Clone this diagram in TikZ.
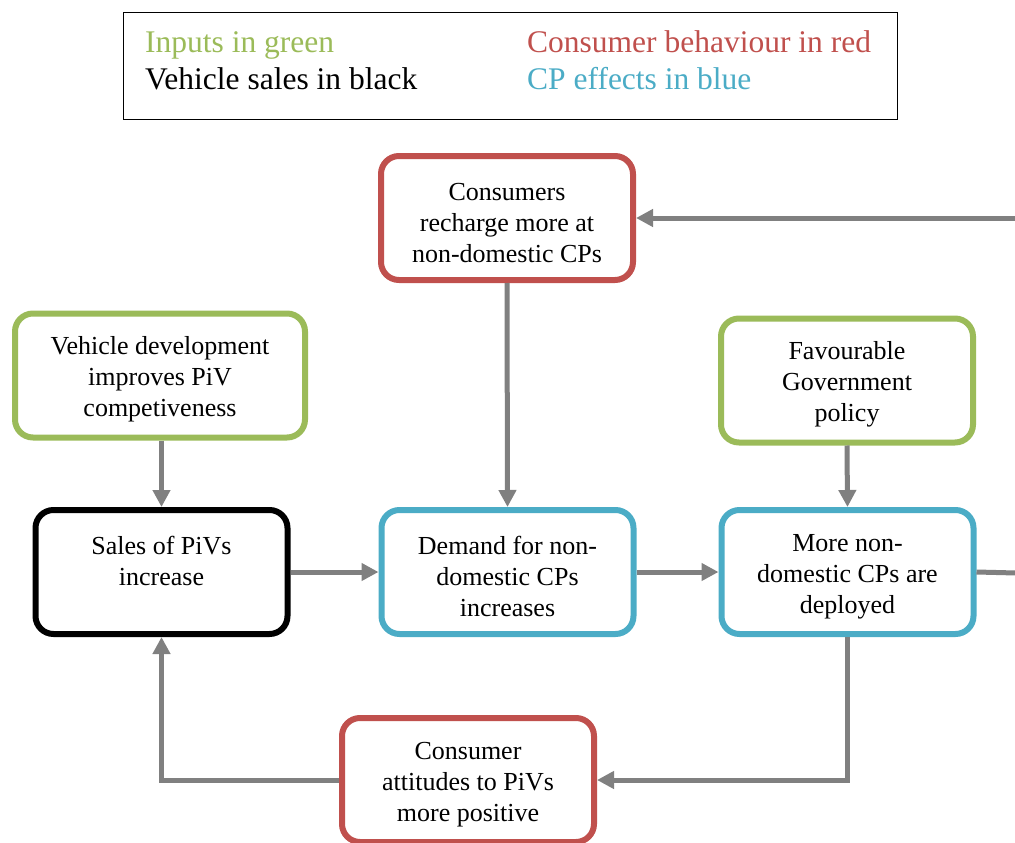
\documentclass[tikz,border=0pt]{standalone}
\usepackage{fontspec}
\setmainfont{Liberation Serif}
\usetikzlibrary{arrows.meta}
\definecolor{cgreen}{HTML}{9BBB59}
\definecolor{cred}{HTML}{C0504D}
\definecolor{cblue}{HTML}{4BACC6}
\definecolor{cgray}{HTML}{808080}
\newcommand{\tstrut}{\rule{0pt}{26.5pt}}
\begin{document}
\begin{tikzpicture}[x=1pt,y=-1pt,
  box/.style={draw, rounded corners=18pt, line width=6pt, fill=white,
    minimum width=252pt, minimum height=124pt, align=center, inner sep=0pt,
    font=\fontsize{26}{31}\selectfont},
  legtext/.style={anchor=base west, inner sep=0pt, font=\fontsize{31.5}{35}\selectfont},
  conn/.style={draw=cgray, line width=5pt, -{Triangle[length=17pt,width=17pt]}},
  plain/.style={draw=cgray, line width=5pt}]
\useasboundingbox (0,0) rectangle (1015,843);
% legend
\node[draw, line width=1.5pt, minimum width=774pt, minimum height=107pt, inner sep=0pt] (legend) at (510.5,66) {};
\node[legtext, text=cgreen] (lg1) at (145,53) {Inputs in green};
\node[legtext] (lg2) at (145,89) {Vehicle sales in black};
\node[legtext, text=cred] (lg3) at (527,53) {Consumer behaviour in red};
\node[legtext, text=cblue] (lg4) at (527,89) {CP effects in blue};
% boxes
\node[box, draw=cred] (cons) at (507,218) {\tstrut Consumers\\recharge more at\\non-domestic CPs};
\node[box, draw=cgreen, minimum width=290pt] (veh) at (160,375.5) {\tstrut Vehicle development\\improves PiV\\competiveness};
\node[box, draw=cgreen] (fav) at (847,380.5) {\tstrut Favourable\\Government\\policy};
\node[box, draw=black] (sales) at (161.5,572) {\tstrut Sales of PiVs\\increase\\~};
\node[box, draw=cblue] (dem) at (507.5,572) {\tstrut Demand for non-\\domestic CPs\\increases};
\node[box, draw=cblue] (more) at (847.5,572) {\tstrut More non-\\domestic CPs are\\deployed};
\node[box, draw=cred] (att) at (468,780) {\tstrut Consumer\\attitudes to PiVs\\more positive};
% connector ends
\coordinate (rtop) at (1016,218);
\coordinate (rmid) at (1016,573);
% connectors
\draw[conn] (rtop) -- (cons.east);
\draw[conn] (cons.south) -- (dem.north);
\draw[conn] (veh.south -| sales.north) -- (sales.north);
\draw[conn] (fav.south) -- (more.north);
\draw[conn] (sales.east) -- (dem.west);
\draw[conn] (dem.east) -- (more.west);
\draw[plain] (more.east) -- (rmid);
\draw[conn] (more.south) |- (att.east);
\draw[conn] (att.west) -| (sales.south);
\end{tikzpicture}
\end{document}
